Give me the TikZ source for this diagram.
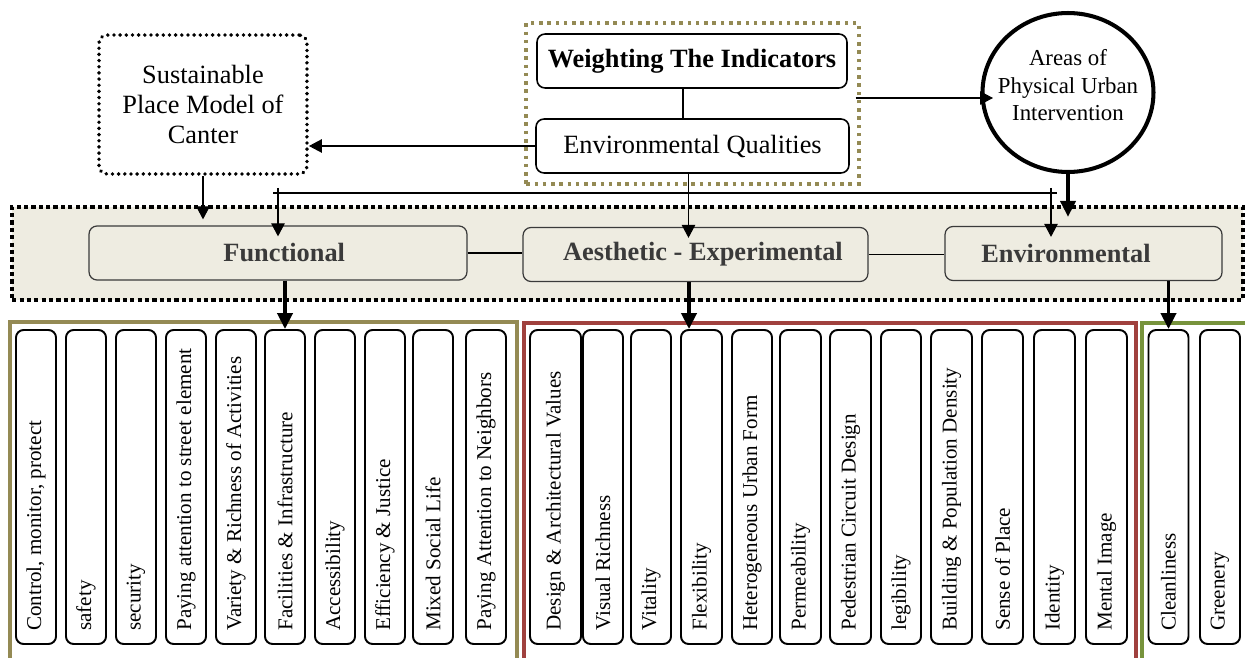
\documentclass[tikz,border=0pt]{standalone}
\usepackage{fontspec}
\setmainfont{Liberation Serif}
\usepackage{graphicx}
\usetikzlibrary{arrows.meta,fit,shapes.geometric}

\definecolor{bandfill}{HTML}{EEECE1}
\definecolor{olivebox}{HTML}{948A54}
\definecolor{redbox}{HTML}{A0413E}
\definecolor{greenbox}{HTML}{77933C}
\definecolor{darktext}{HTML}{3A3A3A}

\newcommand{\coltext}[1]{\rotatebox{90}{\makebox[5.75cm][l]{#1}}}
\newcommand{\circtext}[1]{\makebox[0pt]{\raisebox{-0.01cm}[0pt][0pt]{\begin{tabular}{@{}c@{}}#1\end{tabular}}}}

\tikzset{
  topbox/.style={draw, rounded corners=0.16cm, line width=0.9pt, fill=white, align=center, inner sep=0pt, font=\fontsize{15}{17}\selectfont},
  catbox/.style={draw=darktext, rounded corners=0.16cm, line width=0.7pt, text=darktext, minimum height=1.08cm, inner sep=0pt, font=\fontsize{15}{17}\selectfont\bfseries},
  colbox/.style={draw, rounded corners=0.15cm, line width=1.1pt, fill=white, minimum width=0.8cm, minimum height=6.28cm, inner sep=0pt, font=\fontsize{12}{14}\selectfont},
  arr/.style={-{Triangle[length=0.26cm,width=0.27cm]}, line width=0.6pt},
  thickarr/.style={-{Triangle[length=0.32cm,width=0.3cm]}, line width=2.2pt},
  groupframe/.style={line width=2.3pt},
}

\begin{document}
\begin{tikzpicture}[x=0.02cm, y=-0.02cm]
\useasboundingbox (0,0) rectangle (1245,658);
\clip (0,0) rectangle (1245,658);

% top row
\node[topbox, line width=2.2pt, dash pattern=on 0.01pt off 3.5pt, line cap=round,
  minimum width=4.16cm, minimum height=2.78cm] (sust) at (203,104.5)
  {Sustainable\\Place Model of\\Canter};
\node[topbox, minimum width=6.2cm, minimum height=1.08cm, font=\fontsize{15}{17}\selectfont\bfseries] (wbox) at (692,61) {Weighting The Indicators};
\node[topbox, minimum width=6.26cm, minimum height=1.08cm] (envq) at (692.5,146) {Environmental Qualities};
\node[draw=olivebox, line width=2pt, dash pattern=on 2pt off 2.7pt, inner xsep=0.18cm, inner ysep=0.2cm,
  fit=(wbox)(envq)] (wgroup) {};
\node[ellipse, draw, line width=2.3pt, minimum width=3.42cm, minimum height=3.18cm, inner sep=0pt,
  font=\fontsize{13}{15.5}\selectfont] (areas) at (1068,92.5)
  {\circtext{Areas of\\Physical Urban\\Intervention}};

% middle band
\node[draw, fill=bandfill, line width=2.3pt, dash pattern=on 2.4pt off 1.8pt,
  minimum width=24.62cm, minimum height=1.86cm, inner sep=0pt] (band) at (627.5,253.5) {};
\node[catbox, minimum width=7.56cm] (func) at (278,253) {\hspace*{0.25cm}Functional};
\node[catbox, minimum width=6.9cm] (aes) at (695.5,254.5) {\hspace*{0.3cm}Aesthetic - Experimental};
\node[catbox, minimum width=5.54cm] (envb) at (1083.5,253.5) {Environmental\hspace*{0.7cm}};

% Connections
\coordinate (busL) at (273,193);
\coordinate (busR) at (1057,193);
\coordinate (tickL) at (278,188);
\coordinate (tickR) at (1051,188);
\draw[line width=0.6pt] ([xshift=-0.18cm]wbox.south) -- ([xshift=-0.18cm]wbox.south |- envq.north);
\draw[arr] (envq.west) -- (envq.west -| sust.east);
\draw[arr, shorten >=-0.25cm] ([xshift=-0.1cm]wgroup.east |- 0,98) -- (areas.west |- 0,98);
\draw[line width=0.6pt] (busL) -- (busR);
\draw[arr, shorten >=0.12cm] (sust.south) -- (sust.south |- func.north);
\draw[arr, shorten >=-0.22cm] (tickL) -- (tickL |- func.north);
\draw[arr, shorten >=-0.22cm] (tickR) -- (tickR |- envb.north);
\draw[arr, shorten >=-0.22cm] ([xshift=-0.08cm]envq.south) -- ([xshift=-0.08cm]envq.south |- aes.north);
\draw[thickarr, shorten >=0.18cm] (areas.south) -- (areas.south |- envb.north);
\draw[line width=0.6pt] (func.east) -- (aes.west |- func.east);
\draw[line width=0.6pt] (aes.east) -- (envb.west |- aes.east);

% indicator groups
\draw[groupframe, draw=olivebox] (10,322) rectangle (517,670);
\draw[groupframe, draw=redbox] (524,323) rectangle (1136,670);
\draw[groupframe, draw=greenbox] (1142,323) rectangle (1252,670);

\foreach \x/\t [count=\i] in {36/{Control, monitor, protect}, 86/safety, 136/security,
    186/Paying attention to street element, 236/Variety \& Richness of Activities,
    285/Facilities \& Infrastructure, 335/Accessibility, 385/Efficiency \& Justice,
    433/Mixed Social Life, 486/Paying Attention to Neighbors}
  \node[colbox] (fun\i) at (\x,487) {\coltext{\t}};

\foreach \x/\w/\t [count=\i] in {555.5/1.02/Design \& Architectural Values, 603/0.8/Visual Richness,
    651/0.8/Vitality, 701.5/0.82/Flexibility, 752/0.8/Heterogeneous Urban Form,
    800.5/0.82/Permeability, 850.5/0.82/Pedestrian Circuit Design, 901/0.8/legibility,
    951.5/0.82/Building \& Population Density, 1002.5/0.82/Sense of Place,
    1054.5/0.82/Identity, 1106.5/0.82/Mental Image}
  \node[colbox, minimum width=\w cm] (aes\i) at (\x,487) {\coltext{\t}};

\foreach \x/\t [count=\i] in {1168.5/Cleanliness, 1220/Greenery}
  \node[colbox] (grn\i) at (\x,487) {\coltext{\t}};

% drops to the indicators
\coordinate (aesdrop) at ([xshift=-0.25cm]aes4.north);
\draw[thickarr] (func.south -| fun6.north) -- (fun6.north);
\draw[thickarr] (aes.south -| aesdrop) -- (aesdrop);
\draw[thickarr] (envb.south -| grn1.north) -- (grn1.north);
\end{tikzpicture}
\end{document}
